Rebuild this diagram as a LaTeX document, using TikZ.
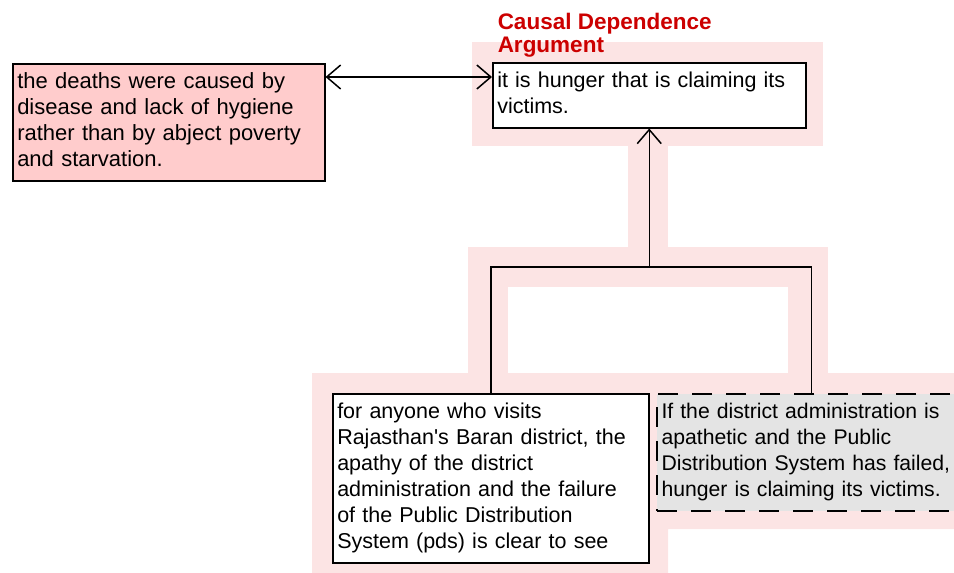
\documentclass[tikz,border=0pt]{standalone}
\usepackage{fontspec}
\setmainfont{Liberation Sans}
\usepackage{xcolor}
\usepackage{tikz}
\usetikzlibrary{arrows.meta}
\definecolor{band}{RGB}{252,228,228}
\definecolor{claimpink}{RGB}{255,204,204}
\definecolor{assumgray}{RGB}{228,228,228}
\definecolor{titlered}{RGB}{204,0,0}
\tikzset{
  argbox/.style={draw, line width=1.5pt, anchor=north west, align=left,
    inner xsep=4.5pt, inner ysep=6.5pt, font=\fontsize{21.5}{26}\selectfont,
    execute at begin node=\strut, execute at end node=\strut},
  titletxt/.style={text=titlered, font=\fontsize{22.5}{22.5}\selectfont\bfseries,
    align=left, inner sep=0pt}
}

\begin{document}
\begin{tikzpicture}[x=1pt, y=-1pt, line width=1.5pt, >={Straight Barb[length=14pt,width=24pt]}]
  \useasboundingbox (0,0) rectangle (954,573);

  % Highlight
  \fill[band] (472,42) rectangle (823,146);
  \fill[band] (628,146) rectangle (668,247);
  \fill[band] (468,247) rectangle (828,287);
  \fill[band] (468,287) rectangle (508,373);
  \fill[band] (788,287) rectangle (828,373);
  \fill[band] (312,373) -- (980,373) -- (980,529) -- (668,529) -- (668,590) -- (312,590) -- cycle;

  % Nodes
  \node[argbox, fill=claimpink, text width=303pt, font=\fontsize{22}{26}\selectfont] (rebut) at (12,63)
    {the deaths were caused by\\disease and lack of hygiene\\rather than by abject poverty\\and starvation.};

  \node[argbox, fill=white, text width=304pt] (concl) at (492,62)
    {it is hunger that is claiming its\\victims.};

  \node[titletxt, anchor=south west] (scheme) at ([xshift=5pt, yshift=4pt]concl.north west)
    {Causal Dependence\\Argument};

  \node[argbox, fill=white, text width=307pt] (prem) at (332,393)
    {for anyone who visits\\Rajasthan\textquotesingle s Baran district, the\\apathy of the district\\administration and the failure\\of the Public Distribution\\System (pds) is clear to see};

  \node[argbox, fill=assumgray, line width=2pt, dash pattern=on 20pt off 14pt, text width=300pt, font=\fontsize{21.2}{26}\selectfont] (assum) at (656,393)
    {If the district administration is\\apathetic and the Public\\Distribution System has failed,\\hunger is claiming its victims.};

  % Links
  \coordinate (jrow) at (0,267);
  \coordinate (join) at (concl.south |- jrow);
  \draw[<->] ([yshift=-14pt]rebut.north east) -- ([yshift=-15pt]concl.north west);
  \draw[->] (join) -- (concl.south);
  \draw (prem.north) |- (join) -| (assum.north);
\end{tikzpicture}
\end{document}
